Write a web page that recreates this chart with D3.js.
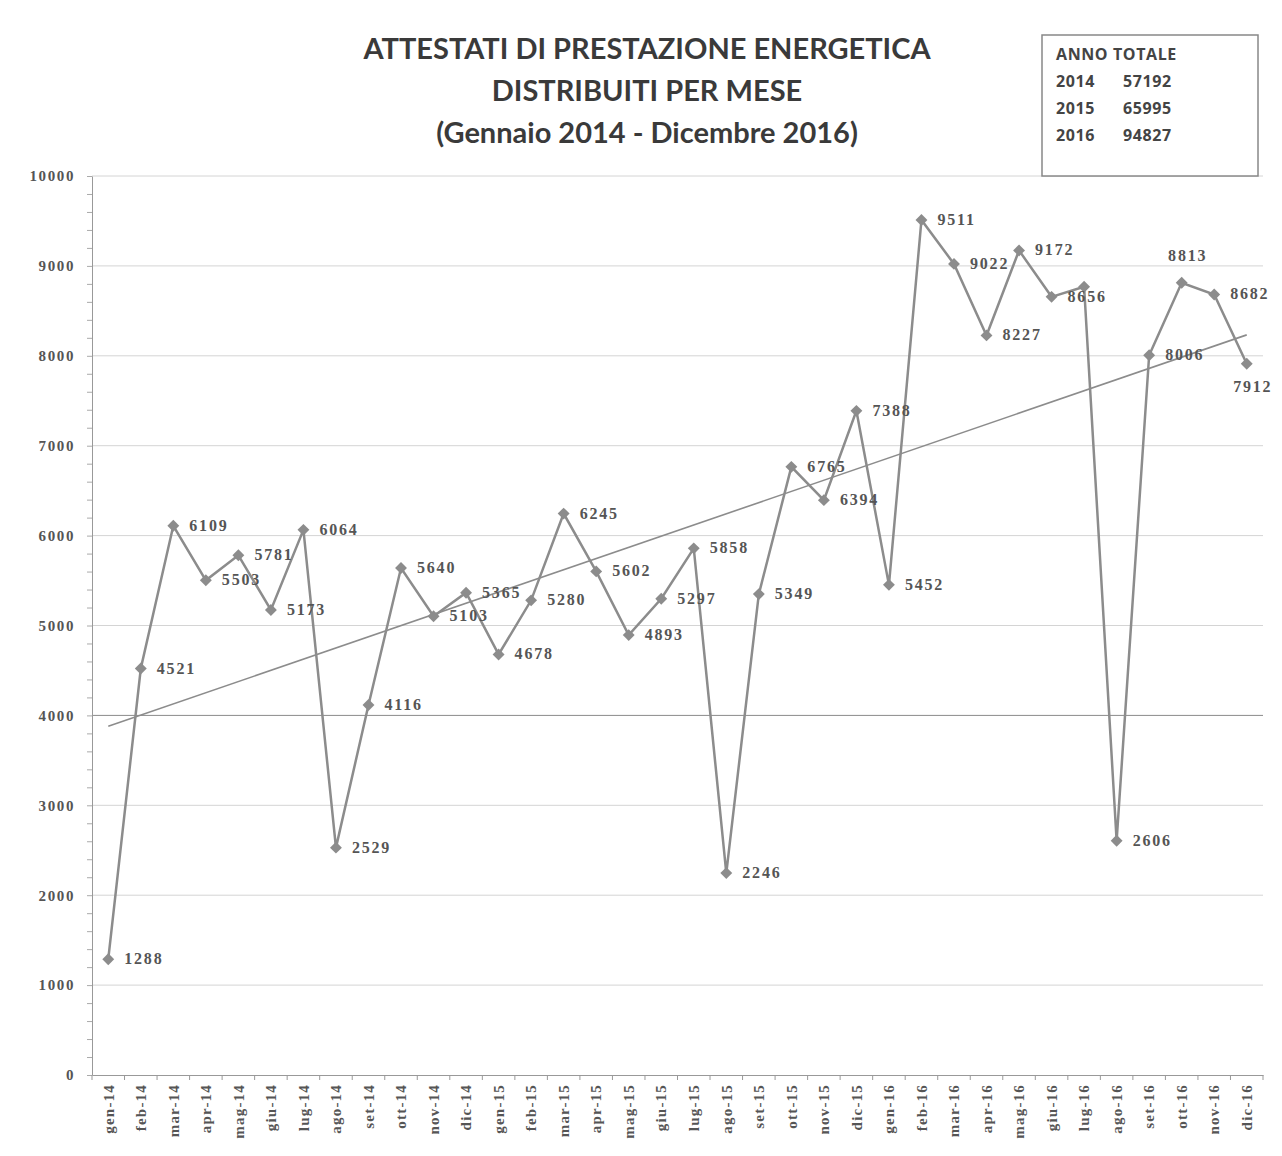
<!DOCTYPE html>
<html lang="it">
<head>
<meta charset="utf-8">
<title>Attestati di prestazione energetica</title>
<script src="https://cdn.jsdelivr.net/npm/d3@7"></script>
<style>
  body { margin: 0; background: #fff; }
  .title { font-family: Lato, "Open Sans", sans-serif; font-weight: bold; fill: #3a3a3a; }
  .axis text { font-family: "Liberation Serif", "DejaVu Serif", serif; font-weight: bold; fill: #555; }
  .lbl { font-family: "Liberation Serif", "DejaVu Serif", serif; font-weight: bold; fill: #555; font-size: 16px; letter-spacing: 1.8px; }
  .leg { font-family: "Open Sans", sans-serif; font-weight: bold; fill: #444; font-size: 16px; letter-spacing: 0.6px; }
</style>
</head>
<body>
<script>
// months and values
var months = ["gen-14","feb-14","mar-14","apr-14","mag-14","giu-14","lug-14","ago-14","set-14","ott-14","nov-14","dic-14",
              "gen-15","feb-15","mar-15","apr-15","mag-15","giu-15","lug-15","ago-15","set-15","ott-15","nov-15","dic-15",
              "gen-16","feb-16","mar-16","apr-16","mag-16","giu-16","lug-16","ago-16","set-16","ott-16","nov-16","dic-16"];
var values = [1288, 4521, 6109, 5503, 5781, 5173, 6064, 2529, 4116, 5640, 5103, 5365,
              4678, 5280, 6245, 5602, 4893, 5297, 5858, 2246, 5349, 6765, 6394, 7388,
              5452, 9511, 9022, 8227, 9172, 8656, 8768, 2606, 8006, 8813, 8682, 7912];
var yTicks = [0, 1000, 2000, 3000, 4000, 5000, 6000, 7000, 8000, 9000, 10000];
var legendYears = ["2014", "2015", "2016"];
var legendTotals = [57192, 65995, 94827];
var titleLines = ["ATTESTATI DI PRESTAZIONE ENERGETICA", "DISTRIBUITI PER MESE", "(Gennaio 2014 - Dicembre 2016)"];

var w = 1282, h = 1156;
var mLeft = 92, mRight = 1263, mTop = 176, mBottom = 1075;

var svg = d3.select("body").append("svg").attr("width", w).attr("height", h);

var xScale = d3.scaleBand().domain(months).range([mLeft, mRight]);
var yScale = d3.scaleLinear().domain([0, 10000]).range([mBottom, mTop]);
var cx = function(i) { return xScale(months[i]) + xScale.bandwidth() / 2; };

// gridlines
svg.append("g").selectAll("line")
   .data(yTicks.slice(1))
   .enter().append("line")
   .attr("x1", mLeft).attr("x2", mRight)
   .attr("y1", function(d) { return yScale(d); })
   .attr("y2", function(d) { return yScale(d); })
   .attr("stroke", function(d) { return d == 4000 ? "#8a8a8a" : "#d4d4d4"; })
   .attr("stroke-width", 1);

// title
svg.selectAll(".title").data(titleLines).enter().append("text")
   .attr("class", "title")
   .attr("x", 647)
   .attr("y", function(d, i) { return 59 + i * 42; })
   .attr("text-anchor", "middle")
   .attr("font-size", "29px")
   .text(function(d) { return d; });

// legend box
var leg = svg.append("g");
leg.append("rect").attr("x", 1042).attr("y", 35).attr("width", 216).attr("height", 141)
   .attr("fill", "#fff").attr("stroke", "#888").attr("stroke-width", 1.5);
leg.append("text").attr("class", "leg").attr("x", 1056).attr("y", 60).text("ANNO  TOTALE");
legendYears.forEach(function(y, i) {
  leg.append("text").attr("class", "leg").attr("x", 1056).attr("y", 87 + i * 27).text(y);
  leg.append("text").attr("class", "leg").attr("x", 1123).attr("y", 87 + i * 27).text(legendTotals[i]);
});

// Y axis
var yAxis = d3.axisLeft(yScale).tickValues(yTicks).tickSize(0).tickPadding(17).tickFormat(d3.format("d"));
var gy = svg.append("g").attr("class", "axis")
   .attr("transform", "translate(" + mLeft + ",0)")
   .call(yAxis);
gy.select(".domain").attr("stroke", "#999");
gy.selectAll("text").attr("font-size", "15px").attr("letter-spacing", "1.6px");
// minor ticks
var gyMinor = svg.append("g").attr("transform", "translate(" + mLeft + ",0)")
   .call(d3.axisLeft(yScale).ticks(50).tickSize(5).tickFormat(""));
gyMinor.select(".domain").remove();
gyMinor.selectAll("line").attr("stroke", "#aaa");

// X axis
var xAxis = d3.axisBottom(xScale).tickSize(0).tickPadding(10);
var gx = svg.append("g").attr("class", "axis")
   .attr("transform", "translate(0," + mBottom + ")")
   .call(xAxis);
gx.select(".domain").attr("stroke", "#999");
gx.selectAll("text")
   .attr("font-size", "15px")
   .attr("letter-spacing", "1.2px")
   .attr("transform", "rotate(-90)")
   .attr("text-anchor", "end")
   .attr("x", -9)
   .attr("y", 0)
   .attr("dy", "0.35em");
svg.append("g").selectAll("line")
   .data(months.concat(["end"]))
   .enter().append("line")
   .attr("x1", function(d, i) { return mLeft + i * xScale.step(); })
   .attr("x2", function(d, i) { return mLeft + i * xScale.step(); })
   .attr("y1", mBottom).attr("y2", mBottom + 5)
   .attr("stroke", "#999");

// trend line (least squares)
var n = values.length;
var xm = d3.mean(values, function(d, i) { return i; });
var ym = d3.mean(values);
var sxy = d3.sum(values, function(d, i) { return (i - xm) * (d - ym); });
var sxx = d3.sum(values, function(d, i) { return (i - xm) * (i - xm); });
var slope = sxy / sxx, icpt = ym - slope * xm;
svg.append("line")
   .attr("x1", cx(0)).attr("y1", yScale(icpt))
   .attr("x2", cx(n - 1)).attr("y2", yScale(icpt + slope * (n - 1)))
   .attr("stroke", "#8c8c8c").attr("stroke-width", 1.6);

// data line
var line = d3.line()
   .x(function(d, i) { return cx(i); })
   .y(function(d) { return yScale(d); });
svg.append("path").datum(values)
   .attr("d", line)
   .attr("fill", "none")
   .attr("stroke", "#8c8c8c")
   .attr("stroke-width", 2.5);

// markers
svg.selectAll(".pt").data(values).enter().append("path")
   .attr("class", "pt")
   .attr("d", d3.symbol().type(d3.symbolDiamond2).size(90))
   .attr("transform", function(d, i) { return "translate(" + cx(i) + "," + yScale(d) + ")"; })
   .attr("fill", "#8c8c8c");

// data labels
svg.selectAll(".lbl").data(values).enter().append("text")
   .attr("class", "lbl")
   .attr("x", function(d, i) {
     if (i == 33 || i == 35) return cx(i) + 6;
     return cx(i) + 16;
   })
   .attr("y", function(d, i) {
     if (i == 33) return yScale(d) - 22;
     if (i == 35) return yScale(d) + 28;
     return yScale(d) + 5;
   })
   .attr("text-anchor", function(d, i) { return (i == 33 || i == 35) ? "middle" : "start"; })
   .text(function(d, i) { return i == 30 ? "" : d; });
</script>
</body>
</html>
